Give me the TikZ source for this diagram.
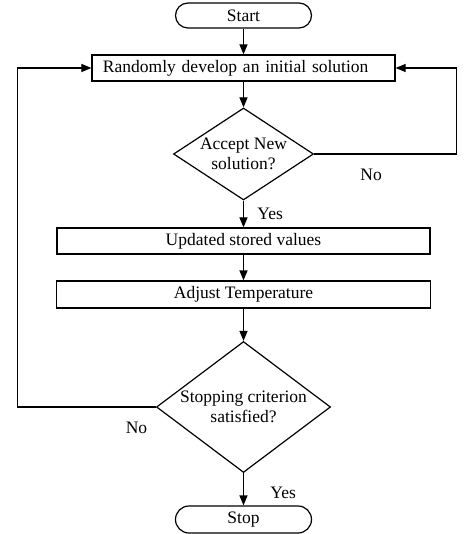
\documentclass[tikz,border=0pt]{standalone}
\usepackage{fontspec}
\setmainfont{Liberation Serif}
\usetikzlibrary{arrows.meta, shapes.geometric, positioning}

\tikzset{
  terminal/.style={draw, rounded corners=12.5pt, minimum width=136pt, minimum height=25pt},
  process/.style={draw, minimum height=26pt},
  decision/.style={draw, diamond, inner sep=0pt},
}

\begin{document}
\begin{tikzpicture}[ node distance=52.5pt, line width=1.2pt, >={Triangle[length=10pt,width=8pt]}, every node/.style={font=\fontsize{17.5pt}{20.5pt}\selectfont}, align=center]
\useasboundingbox (-243.5pt,15.5pt) rectangle (230.5pt,-518.5pt);
% Specification of nodes (position, etc.)

\node (start)        [terminal]                                                              {Start};
\node (init)         [process, text width=281pt, inner xsep=11pt, align=left, below of=start] {Randomly develop an initial solution};
\node (accept)       [decision, aspect=1.52, minimum width=140pt, minimum height=92pt, below of=init, node distance=86pt]    {Accept New\\solution?};
\node (update)       [process, minimum width=373pt, below of=accept, node distance=87pt]    {Updated stored values};
\node (temperature)  [process, minimum width=374pt, minimum height=27pt, below of=update, node distance=53.5pt]  {Adjust Temperature};
\node (criterion)    [decision, aspect=1.33, minimum width=174pt, minimum height=131pt, below of=temperature, node distance=112.5pt] {Stopping criterion\\satisfied?};
\node (stop)         [terminal, minimum height=27pt, rounded corners=13.5pt, below of=criterion, node distance=112.5pt] {Stop};

\draw[->]             (start) -- (init);
\draw[->]             (init) -- (accept);
\draw[->]             (accept) -- node[right=10pt]{Yes} (update);
\draw[->]             (accept.east) -| node[pos=0.2, below=11.5pt]{No} ([xshift=61pt]init.east) -- (init.east);
\draw[->]             (update) -- (temperature);
\draw[->]             (temperature) -- (criterion);
\draw[->]             (criterion) -- node[pos=0.6, right=23pt]{Yes} (stop);
\draw[->]             (criterion.west) -| node[pos=0.07, below=11.5pt]{No} ([xshift=-74pt]init.west) -- (init.west);

\end{tikzpicture}
\end{document}
